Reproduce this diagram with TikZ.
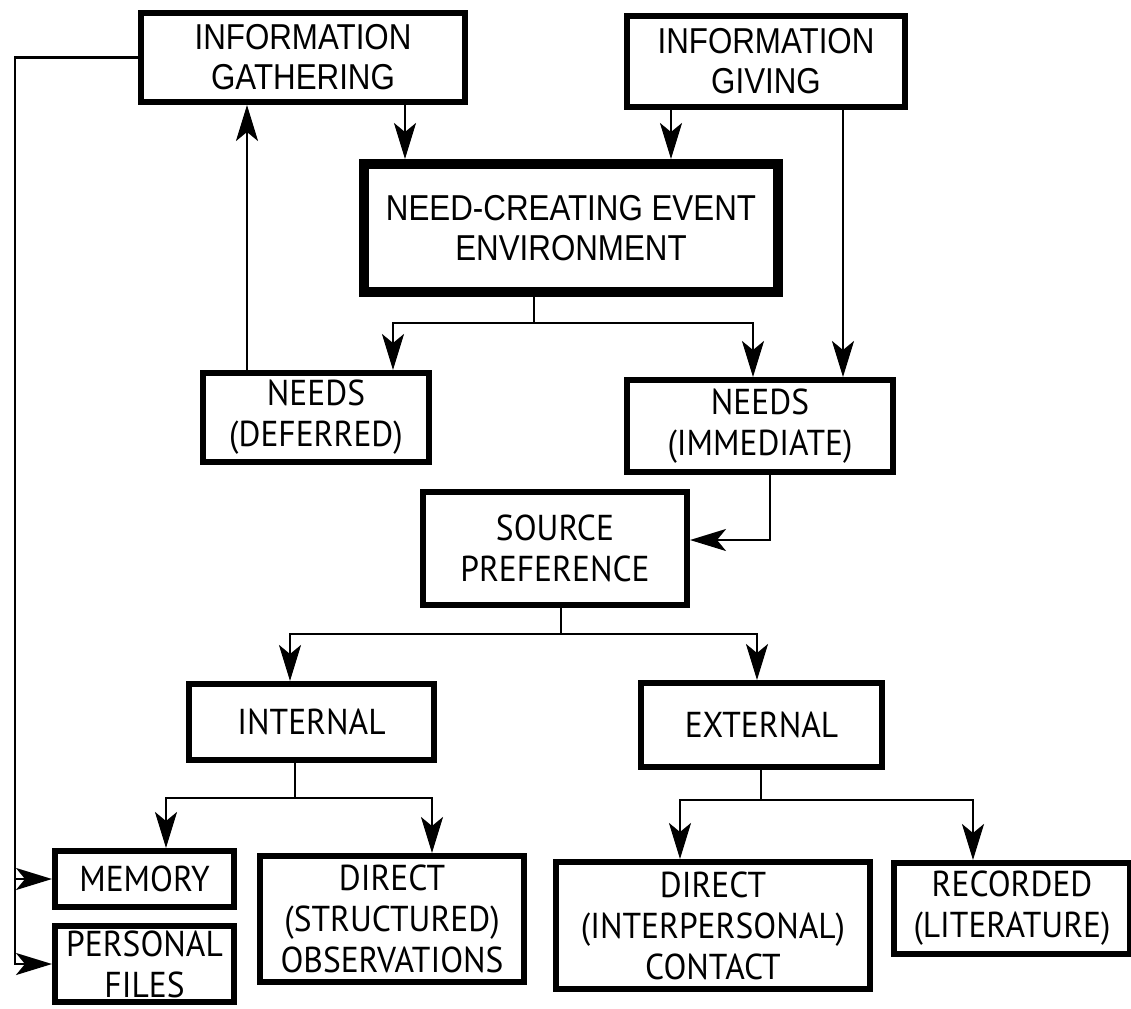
\documentclass[tikz,border=0pt]{standalone}
\usepackage{fontspec}
\setmainfont[FakeStretch=0.87]{Liberation Sans}
\newfontfamily\boxfont[FakeStretch=0.93]{PT Sans}
\usetikzlibrary{arrows.meta}
\begin{document}
\begin{tikzpicture}[x=0.5pt,y=-0.5pt,
  topbox/.style={draw, line width=2.8pt, inner sep=0pt, align=center,
    font=\fontsize{18}{20}\selectfont},
  lowbox/.style={draw, line width=2.8pt, inner sep=0pt, align=center,
    font=\boxfont\fontsize{18}{20.5}\selectfont},
  wire/.style={line width=1.3pt},
  arr/.style={wire, -{Stealth[length=18pt,width=11pt,inset=4.5pt]}},
]
\useasboundingbox (0,0) rectangle (1131,1008);

% boxes
\node[topbox, minimum width=162.2pt, minimum height=44.7pt] (ig) at (303,57.5) {INFORMATION\\GATHERING};
\node[topbox, minimum width=139.2pt, minimum height=45.7pt] (igv) at (766,61.5) {INFORMATION\\GIVING};
\node[topbox, line width=4.8pt, minimum width=207.2pt, minimum height=64.2pt] (nc) at (571,228) {NEED-CREATING EVENT\\ENVIRONMENT};
\node[lowbox, minimum width=113.2pt, minimum height=44.7pt] (nd) at (316,417.5) {NEEDS\\(DEFERRED)};
\node[lowbox, minimum width=133.2pt, minimum height=46.2pt] (ni) at (760,426) {NEEDS\\(IMMEDIATE)};
\node[lowbox, minimum width=132.2pt, minimum height=56.7pt] (sp) at (555,548.5) {SOURCE\\PREFERENCE};
\node[lowbox, minimum width=122.7pt, minimum height=38.2pt] (int) at (311.5,722) {INTERNAL};
\node[lowbox, minimum width=120.7pt, minimum height=42.2pt] (ext) at (761.5,725) {EXTERNAL};
\node[lowbox, minimum width=89.7pt, minimum height=28.2pt] (mem) at (144.5,879) {MEMORY};
\node[lowbox, minimum width=89.7pt, minimum height=38.2pt] (pf) at (144.5,964) {PERSONAL\\FILES};
\node[lowbox, minimum width=132.2pt, minimum height=63.2pt] (dso) at (392,919) {DIRECT\\(STRUCTURED)\\OBSERVATIONS};
\node[lowbox, minimum width=157.2pt, minimum height=63.7pt] (dic) at (713,925.5) {DIRECT\\(INTERPERSONAL)\\CONTACT};
\node[lowbox, minimum width=118.2pt, minimum height=45.7pt] (rec) at (1012,908.5) {RECORDED\\(LITERATURE)};

% routing coordinates
\coordinate (bus) at (15,0);
\coordinate (upx) at (247,0);
\coordinate (dnx) at (405,0);
\coordinate (gvx) at (671,0);
\coordinate (gvr) at (843,0);
\coordinate (ncj) at (534,323);
\coordinate (ndx) at (393,323);
\coordinate (nix) at (753,323);
\coordinate (fbx) at (770,540);
\coordinate (spj) at (561,634);
\coordinate (inx) at (290,634);
\coordinate (exx) at (757,634);
\coordinate (inj) at (295,798);
\coordinate (mex) at (166,798);
\coordinate (dox) at (432,798);
\coordinate (exj) at (761,800);
\coordinate (dcx) at (680,800);
\coordinate (rcx) at (973,800);

% feedback from gathering to personal stores
\draw[arr] (ig.west) -| (bus |- pf.west) -- (pf.west);
\draw[arr] (bus |- mem.west) -- (mem.west);

% top level
\draw[arr] (upx |- nd.north) -- (upx |- ig.south);
\draw[arr] (dnx |- ig.south) -- (dnx |- nc.north);
\draw[arr] (gvx |- igv.south) -- (gvx |- nc.north);
\draw[arr] (gvr |- igv.south) -- (gvr |- ni.north);

% needs split
\draw[wire] (ncj |- nc.south) -- (ncj);
\draw[arr] (ncj) -- (ndx) -- (ndx |- nd.north);
\draw[arr] (ncj) -- (nix) -- (nix |- ni.north);

% immediate needs to source preference
\draw[arr] (fbx |- ni.south) -- (fbx) -- (fbx -| sp.east);

% source split
\draw[wire] (spj |- sp.south) -- (spj);
\draw[arr] (spj) -- (inx) -- (inx |- int.north);
\draw[arr] (spj) -- (exx) -- (exx |- ext.north);

% internal split
\draw[wire] (inj |- int.south) -- (inj);
\draw[arr] (inj) -- (mex) -- (mex |- mem.north);
\draw[arr] (inj) -- (dox) -- (dox |- dso.north);

% external split
\draw[wire] (exj |- ext.south) -- (exj);
\draw[arr] (exj) -- (dcx) -- (dcx |- dic.north);
\draw[arr] (exj) -- (rcx) -- (rcx |- rec.north);
\end{tikzpicture}
\end{document}
